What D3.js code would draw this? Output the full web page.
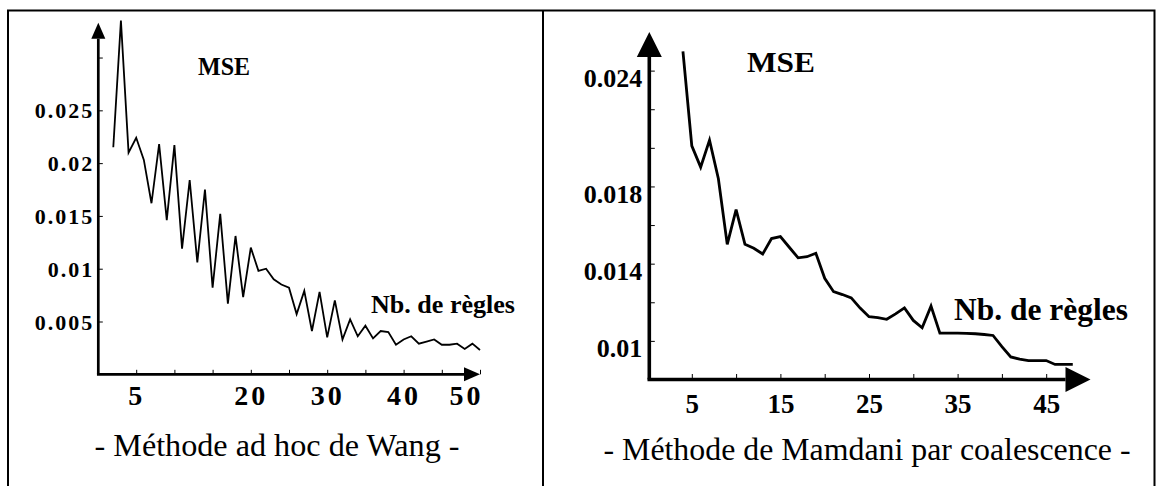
<!DOCTYPE html>
<html><head><meta charset="utf-8">
<script src="https://cdn.jsdelivr.net/npm/d3@7"></script>
<style>
html,body{margin:0;padding:0;background:#fff;}
svg{display:block;}
text{font-family:"Liberation Serif","Times New Roman",serif;fill:#000;}
</style></head><body>
<svg id="c" width="1157" height="486"></svg>
<script>
// ---- Data: Méthode ad hoc de Wang ----
const wangRules = [2,3,4,5,6,7,8,9,10,11,12,13,14,15,16,17,18,19,20,21,22,23,24,25,26,27,28,29,30,31,32,33,34,35,36,37,38,39,40,41,42,43,44,45,46,47,48,49,50];
const wangMSE = [0.0215,0.0335,0.0210,0.0224,0.0203,0.0162,0.0218,0.0146,0.0217,0.0119,0.0184,0.0106,0.0175,0.0082,0.0152,0.0067,0.0131,0.0073,0.0120,0.0098,0.0100,0.0090,0.0085,0.0082,0.0057,0.0079,0.0041,0.0078,0.0035,0.0070,0.0033,0.0052,0.0036,0.0046,0.0034,0.0041,0.0040,0.0028,0.0033,0.0036,0.0029,0.0031,0.0033,0.0028,0.0028,0.0029,0.0024,0.0029,0.0023];
const wangYTicks = [0.005,0.01,0.015,0.02,0.025,0.03];
const wangYLabels = ["0.005","0.01","0.015","0.02","0.025",""];
const wangXTicks = [5,10,15,20,25,30,35,40,45,50];
const wangXLabels = ["5","","","20","","30","","40","","50"];

// ---- Data: Méthode de Mamdani par coalescence ----
const mamRules = [4,5,6,7,8,9,10,11,12,13,14,15,16,17,18,19,20,21,22,23,24,25,26,27,28,29,30,31,32,33,34,35,36,37,38,39,40,41,42,43,44,45,46,47,48];
const mamMSE = [0.0250,0.0201,0.0190,0.0204,0.0184,0.0150,0.0168,0.0150,0.0148,0.0145,0.0153,0.0154,0.01485,0.0143,0.01436,0.01454,0.01324,0.01255,0.0124,0.01223,0.0117,0.01125,0.0112,0.01112,0.0114,0.01171,0.01106,0.01068,0.0118,0.0104,0.0104,0.0104,0.01039,0.01037,0.01033,0.01028,0.0097,0.00917,0.00905,0.00898,0.00898,0.00898,0.00878,0.00878,0.00878];
const mamYTicks = [0.010,0.012,0.014,0.016,0.018,0.020,0.022,0.024];
const mamYLabels = ["0.01","","0.014","","0.018","","","0.024"];
const mamXTicks = [5,10,15,20,25,30,35,40,45];
const mamXLabels = ["5","","15","","25","","35","","45"];

const yTitle = "MSE";
const xTitle = "Nb. de règles";
const captions = ["- Méthode ad hoc de Wang -", "- Méthode de Mamdani par coalescence -"];

const svg = d3.select("#c");

// frame
svg.append("path").attr("d","M8,486V10.5H1154.5V486M543,10.5V486")
  .attr("fill","none").attr("stroke","#000").attr("stroke-width",2);

function panel(o){
  const g = svg.append("g");
  const x = d3.scaleLinear().domain(o.xDomain).range(o.xRange);
  const y = d3.scaleLinear().domain(o.yDomain).range(o.yRange);
  const x0 = o.xRange[0], yAx = o.yRange[0];
  // ticks
  g.append("g").attr("transform",`translate(${o.axisX},0)`)
    .call(d3.axisRight(y).tickValues(o.yTicks).tickSize(o.tick).tickFormat(""))
    .call(s=>s.select(".domain").remove())
    .selectAll("line").attr("stroke","#000").attr("stroke-width",1);
  g.append("g").attr("transform",`translate(0,${yAx})`)
    .call(d3.axisTop(x).tickValues(o.xTicks).tickSize(o.tick).tickFormat(""))
    .call(s=>s.select(".domain").remove())
    .selectAll("line").attr("stroke","#000").attr("stroke-width",1);
  // y labels
  const yl = g.append("g").attr("transform",`translate(${o.axisX},0)`)
    .call(d3.axisLeft(y).tickValues(o.yTicks).tickSize(0).tickPadding(o.yPad).tickFormat((d,i)=>o.yLabels[i]));
  yl.select(".domain").remove();
  yl.attr("font-family",null).attr("font-size",null);
  yl.selectAll("text").attr("font-size",o.yFont).attr("font-weight","bold")
    .attr("letter-spacing",o.yLS).attr("dy",null).attr("y",o.yDy).attr("fill","#000");
  // x labels
  const xl = g.append("g").attr("transform",`translate(0,${yAx})`)
    .call(d3.axisBottom(x).tickValues(o.xTicks).tickSize(0).tickFormat((d,i)=>o.xLabels[i]));
  xl.select(".domain").remove();
  xl.attr("font-family",null).attr("font-size",null);
  xl.selectAll("text").attr("font-size",o.xFont).attr("font-weight","bold")
    .attr("letter-spacing",o.xLS).attr("dy",null).attr("y",o.xDy).attr("fill","#000");
  if(o.lastEnd){
    xl.selectAll("text").filter((d,i)=>i===o.xTicks.length-1).attr("text-anchor","end").attr("dx",o.xLS);
  }
  // axes lines with arrows
  const yTop = y(o.yDomain[1]);
  g.append("line").attr("x1",o.axisX).attr("x2",o.axisX).attr("y1",yAx).attr("y2",yTop+o.ah)
    .attr("stroke","#000").attr("stroke-width",o.axW);
  g.append("path").attr("d",`M${o.axisX},${yTop}L${o.axisX-o.aw},${yTop+o.ah}L${o.axisX+o.aw},${yTop+o.ah}Z`).attr("fill","#000");
  const xEnd = x(o.xDomain[1]);
  g.append("line").attr("x1",o.axisX-o.axW/2).attr("x2",xEnd-o.ah).attr("y1",yAx).attr("y2",yAx)
    .attr("stroke","#000").attr("stroke-width",o.axW);
  g.append("path").attr("d",`M${xEnd},${yAx}L${xEnd-o.ah},${yAx-o.aw}L${xEnd-o.ah},${yAx+o.aw}Z`).attr("fill","#000");
  // series
  const line = d3.line().x(d=>x(d[0])).y(d=>y(d[1]));
  g.append("path").datum(o.xs.map((v,i)=>[v,o.ys[i]])).attr("d",line)
    .attr("fill","none").attr("stroke","#000").attr("stroke-width",o.lw).attr("stroke-linejoin","miter");
  // titles
  g.append("text").attr("x",o.mse[0]).attr("y",o.mse[1]).attr("font-size",o.mse[2]).attr("font-weight","bold")
    .attr("textLength",o.mse[3]).attr("lengthAdjust","spacingAndGlyphs").text(yTitle);
  g.append("text").attr("x",o.nb[0]).attr("y",o.nb[1]).attr("font-size",o.nb[2]).attr("font-weight","bold")
    .attr("textLength",o.nb[3]).attr("lengthAdjust","spacingAndGlyphs").text(xTitle);
  g.append("text").attr("x",o.cap[0]).attr("y",o.cap[1]).attr("font-size",32).attr("text-anchor","middle")
    .attr("textLength",o.cap[2]).attr("lengthAdjust","spacingAndGlyphs").text(o.caption);
}

panel({
  xs: wangRules, ys: wangMSE,
  xDomain:[0,50], xRange:[98,480],
  yDomain:[0,0.0333], yRange:[374.3,22.7],
  axisX:98.3, tick:4.5, axW:2.7, aw:7, ah:16, lw:1.8,
  yTicks:wangYTicks, yLabels:wangYLabels, yFont:22, yLS:2, yPad:4, yDy:7.5,
  xTicks:wangXTicks, xLabels:wangXLabels, xFont:28, xLS:3, xDy:30.5, lastEnd:true,
  mse:[198,75,25,52], nb:[371,313,26,144], cap:[277,456,365], caption:captions[0]
});
panel({
  xs: mamRules, ys: mamMSE,
  xDomain:[0,50], xRange:[647.5,1090.5],
  yDomain:[0.008,0.026], yRange:[379.5,32],
  axisX:649.3, tick:5.5, axW:3.6, aw:12.5, ah:25, lw:2.8,
  yTicks:mamYTicks, yLabels:mamYLabels, yFont:26, yLS:0, yPad:7, yDy:16,
  xTicks:mamXTicks, xLabels:mamXLabels, xFont:27, xLS:0, xDy:33, lastEnd:false,
  mse:[747,72,30,68], nb:[954,320,31.5,174], cap:[867,460,527], caption:captions[1]
});
</script>
</body></html>
